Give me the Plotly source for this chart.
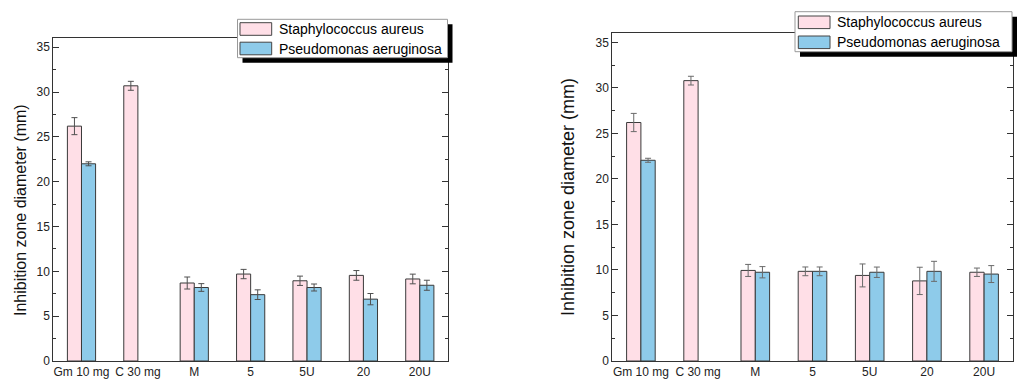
import plotly.graph_objects as go

# ---------------- data ----------------
categories = ["Gm 10 mg", "C 30 mg", "M", "5", "5U", "20", "20U"]
series_names = ["Staphylococcus aureus", "Pseudomonas aeruginosa"]

# left panel
left_sa = [26.2, 30.7, 8.7, 9.7, 8.95, 9.55, 9.15]
left_sa_err = [0.95, 0.5, 0.67, 0.52, 0.52, 0.54, 0.54]
left_pa = [22.0, None, 8.2, 7.4, 8.2, 6.9, 8.45]
left_pa_err = [0.22, None, 0.43, 0.54, 0.39, 0.63, 0.56]

# right panel
right_sa = [26.2, 30.8, 9.95, 9.85, 9.4, 8.8, 9.75]
right_sa_err = [1.0, 0.48, 0.66, 0.48, 1.26, 1.5, 0.46]
right_pa = [22.05, None, 9.75, 9.85, 9.75, 9.85, 9.55]
right_pa_err = [0.22, None, 0.62, 0.48, 0.57, 1.1, 0.93]

y_title = "Inhibition zone diameter (mm)"

# ---------------- style ----------------
W, H = 1020, 381
FONT = "Arial, Liberation Sans, sans-serif"
colors = ["#FFDFE7", "#8ECBEA"]
edge = "#3a3a3a"
axis_col = "#333333"


def px_x(p):
    return p / W


def px_y(p):
    return 1 - p / H


fig = go.Figure()

panels = [
    dict(xa="x", ya="y", sa=left_sa, sae=left_sa_err, pa=left_pa, pae=left_pa_err, errc="#505050"),
    dict(xa="x2", ya="y2", sa=right_sa, sae=right_sa_err, pa=right_pa, pae=right_pa_err, errc="#6a6a6a"),
]

for p in panels:
    for name, vals, errs, col in [
        (series_names[0], p["sa"], p["sae"], colors[0]),
        (series_names[1], p["pa"], p["pae"], colors[1]),
    ]:
        fig.add_trace(go.Bar(
            x=categories, y=vals, name=name,
            xaxis=p["xa"], yaxis=p["ya"],
            marker=dict(color=col, line=dict(color=edge, width=1)),
            error_y=dict(type="data", array=[e if e is not None else 0 for e in errs],
                         visible=True, color=p["errc"], thickness=1, width=3),
            showlegend=False,
        ))

yax_common = dict(
    range=[0, 36], dtick=5, tick0=0, ticks="inside", ticklen=6, tickwidth=1, tickcolor=axis_col,
    showline=True, linecolor=axis_col, linewidth=1, mirror="allticks",
    minor=dict(dtick=2.5, ticks="inside", ticklen=3, tickcolor=axis_col, showgrid=False),
    showgrid=False, zeroline=False, automargin=False,
    tickfont=dict(family=FONT, size=12, color="#222"),
)
xax_common = dict(
    type="category", range=[-0.5, 6.5], ticks="", showline=True, linecolor=axis_col,
    linewidth=1, mirror=True, showgrid=False, zeroline=False, automargin=False,
    tickfont=dict(family=FONT, size=12, color="#222"),
)

fig.update_layout(
    width=W, height=H, margin=dict(l=0, r=0, t=0, b=0, autoexpand=False),
    paper_bgcolor="white", plot_bgcolor="white",
    barmode="group", bargap=0.5, bargroupgap=0,
    showlegend=False,
    xaxis=dict(domain=[px_x(53.3), px_x(448)], anchor="y", **xax_common),
    yaxis=dict(domain=[px_y(361), px_y(38.3)], anchor="x", **yax_common),
    xaxis2=dict(domain=[px_x(612.3), px_x(1012.7)], anchor="y2", **xax_common),
    yaxis2=dict(domain=[px_y(361), px_y(33.3)], anchor="x2", **yax_common),
)

# axis titles
fig.add_annotation(text=y_title, xref="paper", yref="paper", x=px_x(20), y=px_y(210),
                   textangle=-90, showarrow=False, xanchor="center", yanchor="middle",
                   font=dict(family=FONT, size=16, color="#111"))
fig.add_annotation(text=y_title, xref="paper", yref="paper", x=px_x(567.5), y=px_y(197.5),
                   textangle=-90, showarrow=False, xanchor="center", yanchor="middle",
                   font=dict(family=FONT, size=18, color="#111"))

# custom legends (box with drop shadow, wide swatches)
legends = [
    dict(box=(237.5, 19.3, 447.5, 57.7), rows=(29.0, 48.5), sw_dx=2.5, text_dx=39),
    dict(box=(795.0, 11.7, 1012.0, 51.7), rows=(22.3, 42.3), sw_dx=3.3, text_dx=40),
]
for lg in legends:
    x0, y0, x1, y1 = lg["box"]
    # shadow
    fig.add_shape(type="rect", xref="paper", yref="paper", layer="above",
                  x0=px_x(x0 + 5), x1=px_x(x1 + 5), y0=px_y(y1 + 5), y1=px_y(y0 + 5),
                  fillcolor="black", line=dict(width=0))
    # box
    fig.add_shape(type="rect", xref="paper", yref="paper", layer="above",
                  x0=px_x(x0), x1=px_x(x1), y0=px_y(y1), y1=px_y(y0),
                  fillcolor="white", line=dict(color="#999999", width=1))
    for name, col, cy in zip(series_names, colors, lg["rows"]):
        sx0 = x0 + lg["sw_dx"]
        fig.add_shape(type="rect", xref="paper", yref="paper", layer="above",
                      x0=px_x(sx0), x1=px_x(sx0 + 31.7), y0=px_y(cy + 6.3), y1=px_y(cy - 6.3),
                      fillcolor=col, line=dict(color="#444", width=1))
        fig.add_annotation(text=name, xref="paper", yref="paper", x=px_x(x0 + lg["text_dx"]),
                           y=px_y(cy), xanchor="left", yanchor="middle", showarrow=False,
                           font=dict(family=FONT, size=14, color="black"))

fig.write_html("out.html")
